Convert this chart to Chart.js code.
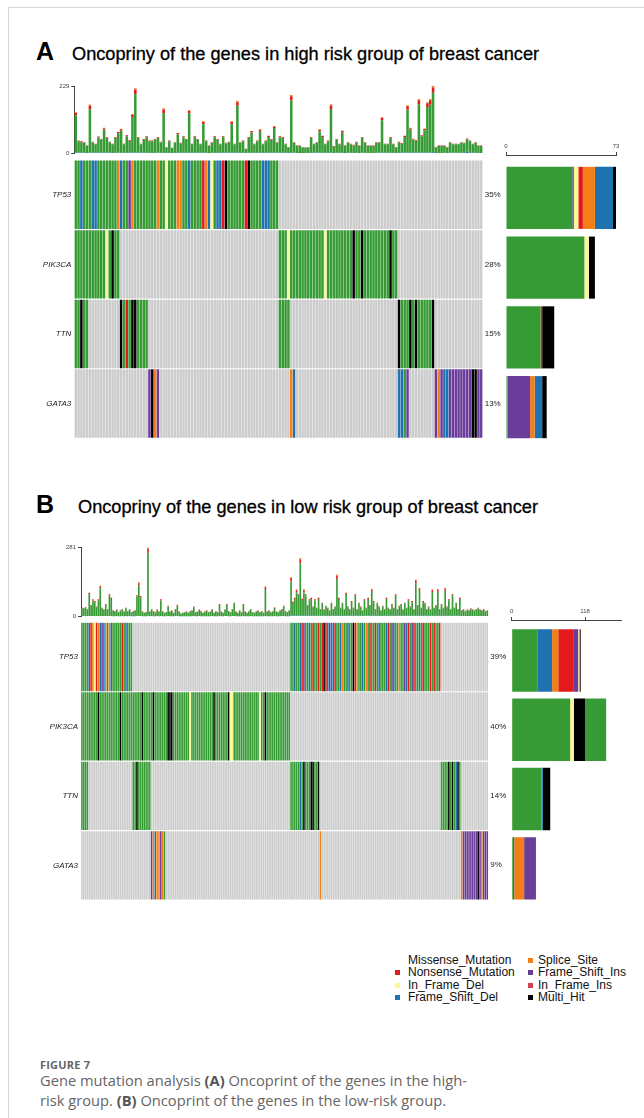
<!DOCTYPE html>
<html>
<head>
<meta charset="utf-8">
<title>Oncoprint</title>
<script src="https://cdn.jsdelivr.net/npm/chart.js@4.4.1/dist/chart.umd.min.js"></script>
<style>
  html, body { margin: 0; padding: 0; background: #fff; }
  body { position: relative; width: 644px; height: 1118px; overflow: hidden; font-family: "Liberation Sans", Arial, sans-serif; color: #000; }
  .frameL { position: absolute; left: 8px; top: 7px; width: 1px; height: 1111px; background: #d6d6d6; }
  .frameT { position: absolute; left: 8px; top: 7px; width: 636px; height: 1px; background: #d6d6d6; }
  .tag { position: absolute; font-weight: bold; font-size: 25px; line-height: 1; }
  .ttl { position: absolute; font-size: 18.2px; line-height: 1; white-space: nowrap; -webkit-text-stroke: 0.3px #000; }
  canvas { position: absolute; }
  .li { position: absolute; font-size: 12px; line-height: 13px; white-space: nowrap; color: #111; }
  .mk { position: absolute; width: 5px; height: 5px; }
  .fig { position: absolute; left: 40px; top: 1057px; font: bold 11px "Open Sans", sans-serif; color: #666; letter-spacing: 0.2px; }
  .capt { position: absolute; left: 40px; top: 1071px; font: 14.7px/19.5px "Open Sans", sans-serif; color: #666; white-space: nowrap; }
  .capt b { color: #555; }
</style>
</head>
<body>
<div class="frameL"></div>
<div class="frameT"></div>

<div class="tag" style="left:36px;top:38.8px">A</div>
<div class="ttl" style="left:72px;top:44.6px">Oncopriny of the genes in high risk group of breast cancer</div>
<div class="tag" style="left:36px;top:492.1px">B</div>
<div class="ttl" style="left:78px;top:497.9px">Oncopriny of the genes in low risk group of breast cancer</div>

<div class="fig">FIGURE 7</div>
<div class="capt">Gene mutation analysis <b>(A)</b> Oncoprint of the genes in the high-<br>risk group. <b>(B)</b> Oncoprint of the genes in the low-risk group.</div>

<script>
// ---------------- data ----------------
const genes = ['TP53', 'PIK3CA', 'TTN', 'GATA3'];
const pctA = ['35%', '28%', '15%', '13%'];
const pctB = ['39%', '40%', '14%', '9%'];

const vcColor = {
  Missense_Mutation: '#379B35',
  Nonsense_Mutation: '#E31A1C',
  In_Frame_Del: '#FAF79B',
  Frame_Shift_Del: '#1F72B0',
  Splice_Site: '#F57F17',
  Frame_Shift_Ins: '#6A3D9A',
  In_Frame_Ins: '#D0424F',
  Multi_Hit: '#000000'
};

// one letter per sample: g Missense, r Nonsense, y In_Frame_Del, b Frame_Shift_Del,
// o Splice_Site, p Frame_Shift_Ins, i In_Frame_Ins, k Multi_Hit, . not mutated
const codeVc = { g: 'Missense_Mutation', r: 'Nonsense_Mutation', y: 'In_Frame_Del', b: 'Frame_Shift_Del',
                 o: 'Splice_Site', p: 'Frame_Shift_Ins', i: 'In_Frame_Ins', k: 'Multi_Hit' };

// high risk group, 144 samples
const gridA = [
  ['ggbgggbbgg', 'gggggobggp', 'oggggggggo', 'ggygggoogg', 'bggggrobyg', 'bbrkgggggg', 'rkggggbbbg', 'gg', '.'.repeat(72)],
  ['gggggggggg', 'gygkgg', '.'.repeat(56), 'gggy', 'g'.repeat(12), 'y', 'g'.repeat(9), 'k', 'gg', 'k', 'g'.repeat(9), 'k', 'gg', '.'.repeat(30)],
  ['ggkgg', '.'.repeat(11), 'kgrgkkgggg', '.'.repeat(46), 'gggg', '.'.repeat(38), 'kgggkgkgggggk', '.'.repeat(17)],
  ['.'.repeat(26), 'pkop', '.'.repeat(46), 'ob', '.'.repeat(36), 'bbgp', '.'.repeat(9), 'popbb', 'pppppppp', 'kkpp']
].map(s => s.join(''));

// low risk group, 222 samples
const gridB = [
  ['gggg', 'broyrobpbo', 'gob', 'ggggg', 'rgb', 'ggg', '.'.repeat(86),
   'ggbggbrpgg', 'bgrggrgrkr', 'bpbbrggbog', 'gbggkroggb', 'gogrggrgbg', 'ggbrgpbggo', 'ggpbrgprgg', 'bgrgggrgrg', 'gr', '.'.repeat(26)],
  ['gggggggggk', 'gggggggggg', 'gkgggggggg', 'gggkgggggk', 'gggggggkkk', 'gggggggggy', 'gggggggggg', 'ggkggggggg',
   'kyyggggggg', 'gggggggygg', 'kggggggggg', 'gggg', '.'.repeat(108)],
  ['gggg', '.'.repeat(24), 'ggkggggggg', '.'.repeat(76), 'gggggbgkgggkkggk', '.'.repeat(66), 'ggggkgkgbkg', '.'.repeat(15)],
  ['.'.repeat(38), 'poboopog', '.'.repeat(84), 'o', '.'.repeat(76), 'oppppppppkpoppp']
].map(s => s.join(''));

// mutations per sample (top bars), high risk
const missA = [128,39,36,34,24,147,35,29,52,44, 78,49,35,30,50,66,75,29,55,40, 121,198,50,29,44,53,39,40,44,50,
  35,135,19,39,17,34,62,32,53,44, 134,29,53,44,29,97,39,24,34,53, 44,29,52,32,35,97,29,159,34,39,
  14,50,69,29,39,73,29,39,54,44, 84,34,53,50,29,19,177,34,24,24, 19,19,19,50,29,34,73,54,29,39,
  148,22,44,29,69,24,34,29,26,35, 24,50,34,24,24,24,34,34,111,29, 29,50,29,19,35,31,54,145,78,45,
  40,164,56,76,155,162,202,19,24,24, 23,19,34,29,29,29,34,32,42,39, 29,34,24,24];
const nonA = [8,3,3,2,2,12,3,2,3,3, 5,3,3,2,3,5,5,2,5,3, 8,16,3,2,3,3,3,3,3,3,
  3,12,2,3,1,2,5,2,3,3, 8,2,3,3,2,8,3,2,2,3, 3,2,3,2,3,8,2,12,2,3,
  1,3,5,2,3,5,2,3,4,3, 5,2,3,3,2,2,14,2,2,2, 2,1,1,3,2,2,5,4,2,3,
  12,2,3,2,5,2,2,2,2,3, 2,3,2,2,2,2,2,2,8,2, 2,3,2,2,3,2,4,12,5,3,
  3,14,4,5,12,16,18,2,2,2, 2,2,2,2,2,2,2,2,3,3, 2,2,2,2];
const fsDelA = [2,2,2,2,1,3,2,2,2,2, 2,3,2,1,2,2,2,2,2,2, 3,3,2,2,2,2,2,1,2,2,
  2,2,1,2,1,2,2,2,2,2, 2,2,2,2,2,2,2,1,2,2, 2,2,3,2,2,2,2,3,2,2,
  1,2,2,2,2,2,2,2,2,2, 2,2,2,2,2,1,3,2,1,1, 1,1,1,2,2,2,2,2,2,2,
  3,1,2,2,2,1,2,2,1,2, 1,2,2,1,1,1,2,2,2,2, 2,2,2,1,2,2,2,3,2,2,
  2,3,2,2,3,3,4,1,1,1, 2,1,2,2,2,2,2,2,6,2, 2,2,1,1];
const spliceA = [[0,2],[5,4],[10,2],[16,2],[20,2],[21,4],[31,4],[40,3],[45,2],[55,2],[57,4],[65,2],[70,2],
  [76,4],[86,2],[90,4],[94,2],[108,2],[117,4],[118,2],[121,4],[123,2],[124,4],[125,4],[126,5]];

// mutations per sample (top bars), low risk
const missB = [32,30,34,26,89,40,63,56,35,63, 112,31,24,45,26,83,69,22,19,24, 16,22,26,17,31,19,26,16,19,22,
  79,125,76,17,13,16,256,17,26,19, 16,24,17,63,19,13,16,38,17,22, 13,26,42,17,10,13,16,17,13,19,
  22,35,16,17,24,19,13,17,22,16, 17,26,13,19,16,45,17,13,24,45, 19,16,26,51,17,13,22,16,45,17,
  13,19,26,16,13,17,22,16,19,13, 109,17,22,16,19,32,17,16,22,26, 38,19,16,22,138,52,68,95,82,212,
  64,95,82,39,62,68,34,62,30,68, 25,50,23,37,30,21,50,25,34,148, 68,30,50,25,88,34,23,55,30,82,
  25,50,34,21,62,30,68,39,97,55, 25,50,34,21,37,25,68,30,23,44, 30,82,25,37,44,23,50,30,62,34,
  55,25,130,39,101,30,55,50,25,34, 23,95,30,39,97,25,44,30,101,34, 62,25,82,30,50,25,68,21,26,18,
  24,21,28,24,21,26,31,24,21,26, 18,21];
const nonB = [2,2,2,2,5,3,5,5,3,5, 8,2,2,3,2,5,5,2,2,2, 1,2,2,2,2,2,2,1,2,2,
  5,8,5,2,1,1,16,2,2,2, 1,2,2,5,2,1,1,3,2,2, 1,2,3,2,1,1,1,2,1,2,
  2,3,1,2,2,2,1,2,2,1, 2,2,1,2,1,3,2,1,2,3, 2,1,2,3,2,1,2,1,3,2,
  1,2,2,1,1,2,2,1,2,1, 8,2,2,1,2,2,2,1,2,2, 3,2,1,2,14,5,5,8,5,16,
  5,8,5,3,5,5,3,5,2,5, 2,3,2,3,2,2,3,2,3,14, 5,2,3,2,5,3,2,5,2,5,
  2,3,3,2,5,2,5,3,8,5, 2,3,3,2,3,2,5,2,2,3, 2,5,2,3,3,2,3,2,5,3,
  5,2,12,3,8,2,5,3,2,3, 2,8,2,3,8,2,3,2,8,3, 5,2,5,2,3,2,5,2,2,2,
  2,2,2,2,2,2,2,2,2,2, 2,2];
const fsDelB = [2,2,2,2,2,2,2,2,2,2, 2,2,2,2,2,2,2,1,1,2, 1,1,2,1,2,1,2,1,1,1,
  2,2,2,1,1,1,3,1,2,1, 1,2,1,2,1,1,1,2,1,1, 1,2,2,1,1,1,1,1,1,1,
  1,2,1,1,2,1,1,1,1,1, 1,2,1,1,1,2,1,1,2,2, 1,1,2,2,1,1,1,1,2,1,
  1,1,2,1,1,1,1,1,1,1, 2,1,1,1,1,2,1,1,1,2, 2,1,1,1,4,3,3,3,3,4,
  3,3,3,3,3,3,3,3,3,3, 3,3,3,3,3,2,3,3,3,4, 3,3,3,3,3,3,3,3,3,3,
  3,3,3,2,3,3,3,3,3,3, 3,3,3,2,3,3,3,3,3,3, 3,3,3,3,3,3,3,3,3,3,
  3,3,4,3,3,3,3,3,3,3, 3,3,3,3,3,3,3,3,3,3, 3,3,3,3,3,3,3,2,2,2,
  2,2,2,2,2,2,2,2,2,2, 2,2];
const spliceB = [[10,4],[31,4],[36,6],[100,4],[114,4],[117,4],[119,5],[121,4],[139,4],[158,4],
  [182,4],[184,4],[191,4],[194,4],[198,4]];

// mutation counts per gene (right bars), order TP53, PIK3CA, TTN, GATA3
const rowClassesA = ['Missense_Mutation', 'Frame_Shift_Ins', 'In_Frame_Del', 'Nonsense_Mutation', 'Splice_Site', 'Frame_Shift_Del', 'Multi_Hit'];
const rowCountsA = [
  [44, 52, 23, 1],
  [1, 0, 0, 15],
  [3, 3, 0, 0],
  [3, 0, 1, 0],
  [8, 0, 0, 3],
  [12, 0, 0, 5],
  [2, 4, 8, 3]
];
const rowClassesB = ['Missense_Mutation', 'Frame_Shift_Del', 'Splice_Site', 'Nonsense_Mutation', 'Frame_Shift_Ins', 'In_Frame_Del', 'Multi_Hit', 'Missense_Mutation'];
const rowCountsB = [
  [42, 94, 48, 2],
  [23, 0, 2, 2],
  [10, 0, 0, 16],
  [25, 0, 0, 0],
  [7, 0, 0, 19],
  [2, 6, 0, 0],
  [2, 18, 12, 0],
  [0, 34, 0, 0]
];
const rowTicksA = [0, 73];
const rowTicksB = [0, 118];

const legendCols = [
  ['Missense_Mutation', 'Nonsense_Mutation', 'In_Frame_Del', 'Frame_Shift_Del'],
  ['Splice_Site', 'Frame_Shift_Ins', 'In_Frame_Ins', 'Multi_Hit']
];

// ---------------- drawing ----------------
Chart.defaults.font.family = '"Liberation Sans", Arial, sans-serif';
Chart.defaults.animation = false;

const AX = '#444';

function addCanvas(b) {
  const c = document.createElement('canvas');
  c.width = b.w; c.height = b.h;
  c.style.left = b.x + 'px'; c.style.top = b.y + 'px';
  c.style.width = b.w + 'px'; c.style.height = b.h + 'px';
  document.body.appendChild(c);
  return c;
}

function expand(n, pairs) {
  const a = new Array(n).fill(0);
  pairs.forEach(([i, v]) => { a[i] = v; });
  return a;
}

const baseOpts = {
  responsive: false, animation: false, events: [],
  plugins: { legend: { display: false }, tooltip: { enabled: false } }
};

function drawTmb(b, stacks, ymax) {
  new Chart(addCanvas(b), {
    type: 'bar',
    data: {
      labels: stacks[0].data.map((_, i) => 'S' + (i + 1)),
      datasets: stacks.map(s => ({
        label: s.vc, data: s.data, backgroundColor: vcColor[s.vc],
        borderWidth: 0, barPercentage: 0.9, categoryPercentage: 1
      }))
    },
    options: {
      ...baseOpts,
      layout: { padding: b.pad },
      scales: {
        x: { stacked: true, display: false },
        y: {
          stacked: true, min: 0, max: ymax,
          afterBuildTicks: s => { s.ticks = [{ value: 0 }, { value: ymax }]; },
          afterFit: s => { s.width = b.axisW; },
          ticks: { font: { size: 6 }, color: AX, padding: 2 },
          grid: { drawOnChartArea: false, tickLength: 3, color: AX },
          border: { color: AX }
        }
      }
    }
  });
}

function drawGrid(b, rows, pct, barPct) {
  const geneTicks = s => { s.ticks = genes.map((g, i) => ({ value: i + 0.5 })); };
  new Chart(addCanvas(b), {
    type: 'bar',
    data: {
      labels: Array.from(rows[0], (_, i) => 'S' + (i + 1)),
      datasets: rows.map((row, gi) => ({
        label: genes[gi],
        data: Array.from(row, () => [gi + 0.008, gi + 0.992]),
        backgroundColor: Array.from(row, c => c === '.' ? '#CCCCCC' : vcColor[codeVc[c]]),
        grouped: false, borderWidth: 0, barPercentage: barPct, categoryPercentage: 1
      }))
    },
    options: {
      ...baseOpts,
      layout: { padding: b.pad },
      scales: {
        x: { display: false },
        y: {
          min: 0, max: 4, reverse: true,
          afterBuildTicks: geneTicks,
          afterFit: s => { s.width = b.leftW; },
          ticks: { callback: (v, i) => genes[i], font: { size: 8, style: 'italic' }, color: '#222', padding: 3 },
          grid: { display: false, drawTicks: false }, border: { display: false }
        },
        y2: {
          position: 'right', min: 0, max: 4, reverse: true,
          afterBuildTicks: geneTicks,
          afterFit: s => { s.width = b.rightW; },
          ticks: { callback: (v, i) => pct[i], font: { size: 8 }, color: '#222', padding: 2 },
          grid: { display: false, drawTicks: false }, border: { display: false }
        }
      }
    }
  });
}

function drawRowBars(b, classes, counts, xmax, tickVals, ymin, barPct) {
  new Chart(addCanvas(b), {
    type: 'bar',
    data: {
      datasets: classes.map((vc, k) => ({
        label: vc,
        data: counts[k].map((v, gi) => ({ x: v, y: gi + 0.5 })),
        backgroundColor: vcColor[vc], borderWidth: 0,
        grouped: false, barPercentage: barPct, categoryPercentage: 1
      }))
    },
    options: {
      ...baseOpts,
      indexAxis: 'y',
      layout: { padding: b.pad },
      scales: {
        x: {
          stacked: true, position: 'top', min: 0, max: xmax,
          afterBuildTicks: s => { s.ticks = tickVals.map(v => ({ value: v })); },
          afterFit: s => { s.height = 17; },
          ticks: { font: { size: 6 }, color: AX, padding: 2, maxRotation: 0 },
          grid: { drawOnChartArea: false, tickLength: 3, color: AX },
          border: { color: AX }
        },
        y: {
          type: 'linear', display: false, offset: false, min: ymin, max: 4, reverse: true,
          afterBuildTicks: s => { s.ticks = genes.map((g, i) => ({ value: i + 0.5 })); }
        }
      }
    }
  });
}

// panel A
drawTmb({ x: 40, y: 78, w: 443, h: 81, axisW: 34.3, pad: { top: 8, bottom: 4, left: 0, right: 0.3 } }, [
  { vc: 'Frame_Shift_Del', data: fsDelA },
  { vc: 'Missense_Mutation', data: missA },
  { vc: 'Nonsense_Mutation', data: nonA },
  { vc: 'Splice_Site', data: expand(missA.length, spliceA) }
], 229);
drawGrid({ x: 10, y: 150, w: 500, h: 299, leftW: 64.3, rightW: 27.3, pad: { top: 10, bottom: 10.7, left: 0, right: 0 } }, gridA, pctA, 0.88);
drawRowBars({ x: 490, y: 138, w: 134, h: 304, pad: { left: 16, right: 8, top: 0, bottom: 0 } }, rowClassesA, rowCountsA, 73, rowTicksA, -0.1145, 0.89);

// panel B
drawTmb({ x: 45, y: 540, w: 444, h: 82, axisW: 36, pad: { top: 7.3, bottom: 4.7, left: 0, right: 0.7 } }, [
  { vc: 'Frame_Shift_Del', data: fsDelB },
  { vc: 'Missense_Mutation', data: missB },
  { vc: 'Nonsense_Mutation', data: nonB },
  { vc: 'Splice_Site', data: expand(missB.length, spliceB) }
], 281);
drawGrid({ x: 10, y: 612, w: 510, h: 299, leftW: 71, rightW: 31.7, pad: { top: 10.3, bottom: 11, left: 0, right: 0 } }, gridB, pctB, 0.85);
drawRowBars({ x: 496, y: 603, w: 134, h: 300, pad: { left: 15.7, right: 8.3, top: 0, bottom: 0 } }, rowClassesB, rowCountsB, 177, rowTicksB, -0.0836, 0.9);

// legend (Missense has no key square in the original)
const legendX = [[394.5, 408], [527.5, 538]];
const legendY = [960, 972.5, 985, 997.5];
legendCols.forEach((col, ci) => col.forEach((vc, ri) => {
  if (ri > 0 || ci > 0) {
    const m = document.createElement('div');
    m.className = 'mk';
    m.style.left = legendX[ci][0] + 'px';
    m.style.top = (legendY[ri] - 2.5) + 'px';
    m.style.background = vcColor[vc];
    document.body.appendChild(m);
  }
  const t = document.createElement('div');
  t.className = 'li';
  t.style.left = legendX[ci][1] + 'px';
  t.style.top = (legendY[ri] - 6.5) + 'px';
  t.textContent = vc;
  document.body.appendChild(t);
}));

[gridA, gridB].forEach((g, k) => g.forEach((r, i) => {
  if (r.length !== g[0].length) console.error('row length mismatch', k, i, r.length);
}));
</script>
</body>
</html>
